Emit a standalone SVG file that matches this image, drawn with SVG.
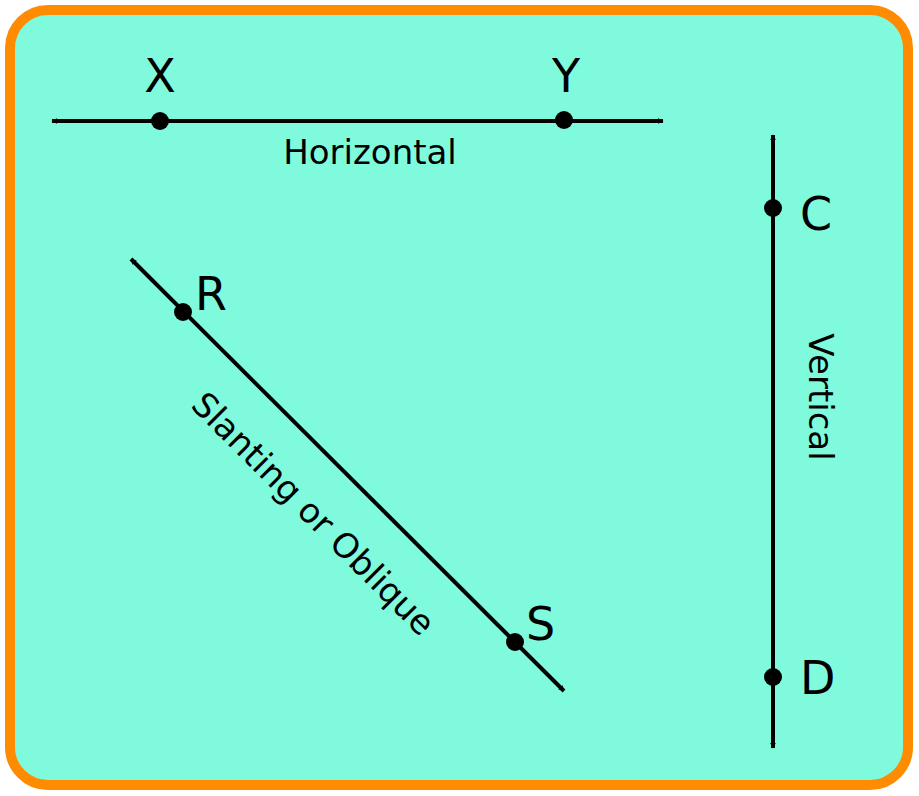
<svg xmlns="http://www.w3.org/2000/svg" width="919" height="796" viewBox="0 0 919 796">
<style>
.ln{stroke:#000;stroke-width:4;fill:none}
.pt{fill:#000}
.big{font-family:"DejaVu Sans",sans-serif;font-size:46px;fill:#000}
.lbl{font-family:"DejaVu Sans",sans-serif;font-size:34px;fill:#000}
</style>
<defs>
<marker id="ah" viewBox="0 0 10 10" refX="9" refY="5" markerWidth="6" markerHeight="6" markerUnits="userSpaceOnUse" orient="auto-start-reverse">
<path d="M0,0 L10,5 L0,10 Z" fill="#000"/>
</marker>
</defs>
<rect x="10" y="10" width="898" height="775" rx="38" fill="#80FADC" stroke="#FF8C00" stroke-width="10"/>
<g id="connectors">
<line class="ln" x1="52" y1="121" x2="663" y2="121" marker-start="url(#ah)" marker-end="url(#ah)" style="stroke-width:4"/>
<line class="ln" x1="773" y1="135" x2="773" y2="748" marker-start="url(#ah)" marker-end="url(#ah)"/>
<line class="ln" x1="131" y1="259" x2="564" y2="691" marker-start="url(#ah)" marker-end="url(#ah)"/>
</g>
<g id="X"><circle class="pt" cx="160" cy="121" r="9"/><text class="big" x="160" y="92" text-anchor="middle">X</text></g>
<g id="Y"><circle class="pt" cx="564" cy="120" r="9"/><text class="big" x="566" y="92" text-anchor="middle">Y</text></g>
<g id="C"><circle class="pt" cx="773" cy="208" r="9"/><text class="big" x="800" y="230">C</text></g>
<g id="D"><circle class="pt" cx="773" cy="677" r="9"/><text class="big" x="800" y="694">D</text></g>
<g id="R"><circle class="pt" cx="183" cy="312" r="9"/><text class="big" x="195" y="310">R</text></g>
<g id="S"><circle class="pt" cx="515" cy="642" r="9"/><text class="big" x="526" y="640">S</text></g>
<text class="lbl" x="370" y="164" text-anchor="middle">Horizontal</text>
<text class="lbl" transform="translate(809,397) rotate(90)" text-anchor="middle">Vertical</text>
<text class="lbl" transform="translate(305,522) rotate(45)" text-anchor="middle">Slanting or Oblique</text>
</svg>
